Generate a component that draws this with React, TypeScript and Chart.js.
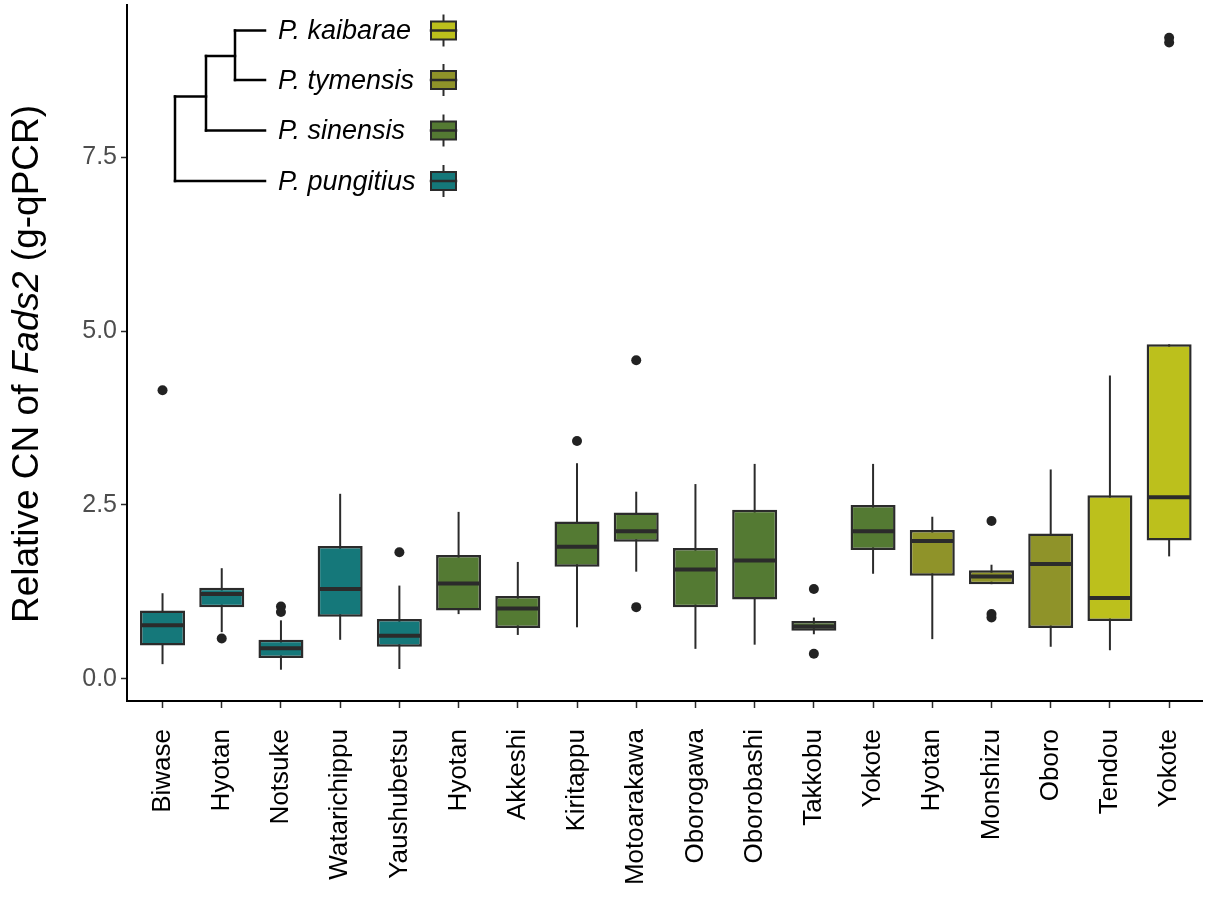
import React, { useEffect, useRef } from "react";
import { Chart, registerables } from "chart.js";

Chart.register(...registerables);

// ---------- data ----------
const categories = [
  "Biwase", "Hyotan", "Notsuke", "Watarichippu", "Yaushubetsu",
  "Hyotan", "Akkeshi", "Kiritappu", "Motoarakawa", "Oborogawa", "Oborobashi", "Takkobu", "Yokote",
  "Hyotan", "Monshizu", "Oboro",
  "Tendou", "Yokote",
];
// 0 = P. pungitius, 1 = P. sinensis, 2 = P. tymensis, 3 = P. kaibarae
const groupOf = [0, 0, 0, 0, 0, 1, 1, 1, 1, 1, 1, 1, 1, 2, 2, 2, 3, 3];
const whiskerLow = [0.21, 0.67, 0.13, 0.56, 0.14, 0.93, 0.63, 0.74, 1.54, 0.43, 0.49, 0.64, 1.51, 0.57, 1.36, 0.46, 0.41, 1.76];
const q1 = [0.48, 1.03, 0.30, 0.89, 0.46, 0.98, 0.73, 1.61, 1.97, 1.03, 1.14, 0.69, 1.85, 1.48, 1.36, 0.73, 0.83, 1.99];
const median = [0.77, 1.22, 0.44, 1.29, 0.62, 1.37, 1.01, 1.90, 2.12, 1.57, 1.70, 0.75, 2.12, 1.98, 1.47, 1.65, 1.16, 2.61];
const q3 = [0.98, 1.31, 0.56, 1.91, 0.86, 1.78, 1.19, 2.26, 2.39, 1.88, 2.43, 0.83, 2.50, 2.14, 1.56, 2.09, 2.64, 4.81];
const whiskerHigh = [1.23, 1.59, 0.84, 2.66, 1.34, 2.40, 1.68, 3.10, 2.69, 2.80, 3.09, 0.88, 3.09, 2.33, 1.64, 3.01, 4.36, 4.81];
// [category index, value]
const outliers: [number, number][] = [
  [0, 4.15], [1, 0.58], [2, 0.96], [2, 1.04], [4, 1.82], [7, 3.42],
  [8, 4.58], [8, 1.03], [11, 1.29], [11, 0.36], [14, 2.27], [14, 0.93], [14, 0.88],
  [17, 9.15], [17, 9.22],
];
const yTicks = [0, 2.5, 5, 7.5];
const species = ["P. pungitius", "P. sinensis", "P. tymensis", "P. kaibarae"];
const speciesColors = ["#15787a", "#547a33", "#8f9329", "#bcc01c"];

const FONT = '"Liberation Sans", Arial, Helvetica, sans-serif';
const DARK = "#2b2b2b";

const boxPlugin = {
  id: "boxExtras",
  beforeDatasetsDraw(chart: any) {
    const { ctx } = chart;
    const ys = chart.scales.y;
    const meta = chart.getDatasetMeta(0);
    ctx.save();
    ctx.strokeStyle = DARK;
    ctx.lineWidth = 2;
    meta.data.forEach((bar: any, i: number) => {
      const x = bar.x;
      ctx.beginPath();
      ctx.moveTo(x, ys.getPixelForValue(whiskerLow[i]));
      ctx.lineTo(x, ys.getPixelForValue(whiskerHigh[i]));
      ctx.stroke();
    });
    ctx.restore();
  },
  afterDatasetsDraw(chart: any) {
    const { ctx } = chart;
    const ys = chart.scales.y;
    const meta = chart.getDatasetMeta(0);
    ctx.save();
    ctx.strokeStyle = DARK;
    ctx.lineWidth = 4;
    meta.data.forEach((bar: any, i: number) => {
      const y = ys.getPixelForValue(median[i]);
      ctx.beginPath();
      ctx.moveTo(bar.x - bar.width / 2 + 1, y);
      ctx.lineTo(bar.x + bar.width / 2 - 1, y);
      ctx.stroke();
    });
    ctx.restore();
  },
  afterDraw(chart: any) {
    const { ctx } = chart;
    ctx.save();
    // y-axis title with italic gene name
    const parts: [string, boolean][] = [["Relative CN of ", false], ["Fads2", true], [" (g-qPCR)", false]];
    const size = 37;
    let total = 0;
    parts.forEach(([t, it]) => {
      ctx.font = `${it ? "italic " : ""}${size}px ${FONT}`;
      total += ctx.measureText(t).width;
    });
    ctx.translate(28, 364);
    ctx.rotate(-Math.PI / 2);
    ctx.fillStyle = "#000";
    ctx.textBaseline = "middle";
    ctx.textAlign = "left";
    let cx = -total / 2;
    parts.forEach(([t, it]) => {
      ctx.font = `${it ? "italic " : ""}${size}px ${FONT}`;
      ctx.fillText(t, cx, 0);
      cx += ctx.measureText(t).width;
    });
    ctx.restore();

    // phylogenetic tree legend
    ctx.save();
    ctx.strokeStyle = "#000";
    ctx.lineWidth = 2.5;
    ctx.lineCap = "square";
    const rowY = [181, 130.5, 80, 30.5]; // pungitius, sinensis, tymensis, kaibarae
    const tipX = 265;
    const segs: number[][] = [
      [235, rowY[3], tipX, rowY[3]],
      [235, rowY[2], tipX, rowY[2]],
      [235, rowY[3], 235, rowY[2]],
      [206, 56, 235, 56],
      [206, rowY[1], tipX, rowY[1]],
      [206, 56, 206, rowY[1]],
      [175, 96.5, 206, 96.5],
      [175, rowY[0], tipX, rowY[0]],
      [175, 96.5, 175, rowY[0]],
    ];
    segs.forEach(([x1, y1, x2, y2]) => {
      ctx.beginPath();
      ctx.moveTo(x1, y1);
      ctx.lineTo(x2, y2);
      ctx.stroke();
    });
    ctx.font = `italic 27px ${FONT}`;
    ctx.textBaseline = "middle";
    ctx.textAlign = "left";
    species.forEach((s, k) => {
      const y = rowY[k];
      ctx.fillStyle = "#000";
      ctx.fillText(s, 278, y + 1);
      // key glyph
      const kx = 431, kw = 25, kh = 18;
      ctx.lineWidth = 2;
      ctx.strokeStyle = DARK;
      ctx.beginPath();
      ctx.moveTo(kx + kw / 2, y - 15);
      ctx.lineTo(kx + kw / 2, y + 15);
      ctx.stroke();
      ctx.fillStyle = speciesColors[k];
      ctx.fillRect(kx, y - kh / 2, kw, kh);
      ctx.strokeRect(kx, y - kh / 2, kw, kh);
      ctx.lineWidth = 2.5;
      ctx.beginPath();
      ctx.moveTo(kx, y);
      ctx.lineTo(kx + kw, y);
      ctx.stroke();
    });
    ctx.restore();
  },
};

export default function App() {
  const ref = useRef<HTMLCanvasElement>(null);
  useEffect(() => {
    if (!ref.current) return;
    const chart = new Chart(ref.current, {
      type: "bar",
      data: {
        datasets: [
          {
            type: "bar",
            data: categories.map((_, i) => ({ x: i, y: [q1[i], q3[i]] })) as any,
            backgroundColor: groupOf.map((g) => speciesColors[g]),
            borderColor: DARK,
            borderWidth: 2.5,
            borderSkipped: false,
            barPercentage: 0.76,
            categoryPercentage: 1,
            order: 2,
          } as any,
          {
            type: "scatter",
            data: outliers.map(([i, v]) => ({ x: i, y: v })),
            backgroundColor: "#222",
            borderColor: "#222",
            pointRadius: 5,
            pointBorderWidth: 0,
            order: 1,
          } as any,
        ],
      },
      options: {
        responsive: false,
        animation: false,
        layout: { padding: { top: 5, right: 0, left: 0, bottom: 0 } },
        plugins: { legend: { display: false }, tooltip: { enabled: false } },
        scales: {
          x: {
            type: "linear",
            offset: false,
            min: -0.6,
            max: 17.555,
            afterBuildTicks: (s: any) => {
              s.ticks = categories.map((_, i) => ({ value: i }));
            },
            afterFit: (s: any) => {
              s.height = 198;
              s.paddingLeft = 0;
              s.paddingRight = 0;
            },
            ticks: {
              autoSkip: false,
              minRotation: 90,
              maxRotation: 90,
              padding: 21,
              color: "#000",
              font: { family: FONT, size: 26 },
              callback: (v: any) => categories[v as number],
            },
            grid: {
              offset: false,
              drawOnChartArea: false,
              drawTicks: true,
              tickLength: 7,
              tickColor: DARK,
              tickWidth: 1.5,
            },
            border: { display: true, color: "#000", width: 2 },
          } as any,
          y: {
            type: "linear",
            min: -0.32,
            max: 9.69,
            afterBuildTicks: (s: any) => {
              s.ticks = yTicks.map((v) => ({ value: v }));
            },
            afterFit: (s: any) => {
              s.width = 127;
              s.paddingTop = 0;
              s.paddingBottom = 0;
            },
            ticks: {
              padding: 4,
              color: "#4d4d4d",
              font: { family: FONT, size: 25 },
              callback: (v: any) => Number(v).toFixed(1),
            },
            grid: {
              drawOnChartArea: false,
              drawTicks: true,
              tickLength: 6,
              tickColor: DARK,
              tickWidth: 1.5,
            },
            border: { display: true, color: "#000", width: 2 },
          } as any,
        },
      },
      plugins: [boxPlugin],
    });
    return () => chart.destroy();
  }, []);
  return (
    <div style={{ position: "absolute", left: 0, top: 0, width: 1207, height: 899, background: "#fff" }}>
      <canvas ref={ref} width={1207} height={899} />
    </div>
  );
}
